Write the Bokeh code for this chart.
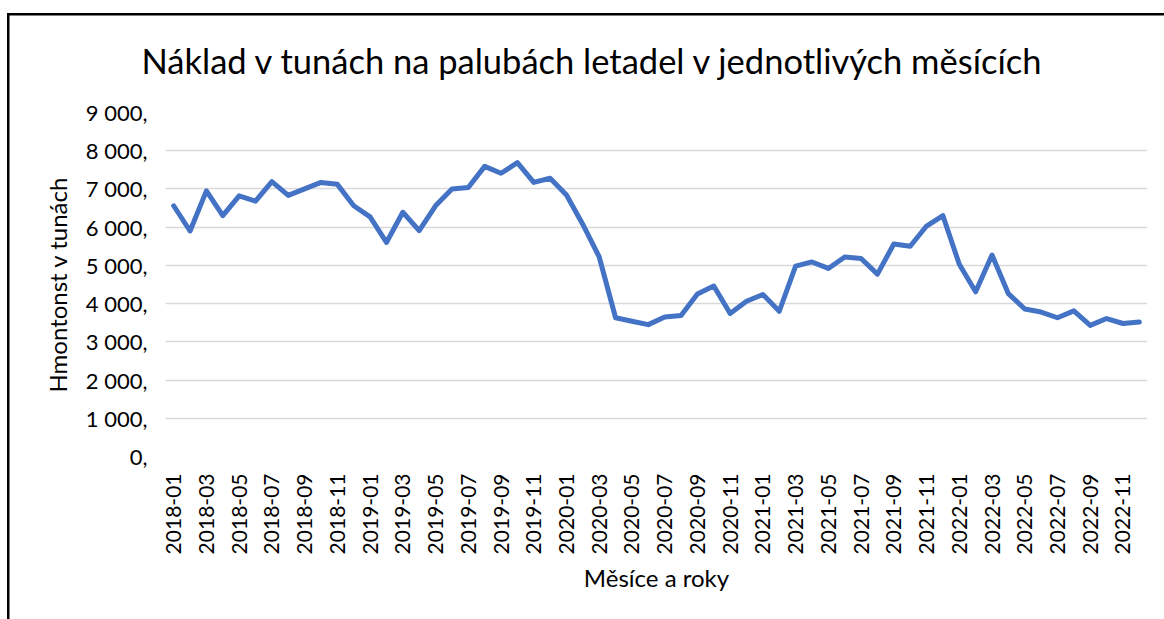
from bokeh.plotting import figure
from bokeh.models import Range1d, FixedTicker
from bokeh.embed import file_html
from bokeh.resources import INLINE

title_text = "Náklad v tunách na palubách letadel v jednotlivých měsících"
x_title = "Měsíce a roky"
y_title = "Hmontonst v tunách"

months = [f"{y}-{m:02d}" for y in range(2018, 2023) for m in range(1, 13)]

cargo = [6560, 5900, 6950, 6300, 6820, 6680, 7190, 6830, 7000, 7170, 7120, 6560,
         6270, 5600, 6390, 5910, 6560, 7000, 7040, 7590, 7410, 7690, 7170, 7280,
         6840, 6070, 5220, 3630, 3540, 3450, 3650, 3690, 4250, 4460, 3740, 4060,
         4240, 3800, 4980, 5090, 4920, 5220, 5180, 4770, 5560, 5500, 6030, 6300,
         5030, 4310, 5270, 4260, 3860, 3780, 3630, 3810, 3430, 3610, 3480, 3520]

y_ticks = [0, 1000, 2000, 3000, 4000, 5000, 6000, 7000, 8000, 9000]
y_tick_labels = ["0,", "1 000,", "2 000,", "3 000,", "4 000,", "5 000,",
                 "6 000,", "7 000,", "8 000,", "9 000,"]

FONT = "Lato"

p = figure(width=1164, height=619, output_backend="svg", toolbar_location=None,
           x_range=Range1d(-0.5, len(months) - 0.5), y_range=Range1d(0, 9000),
           min_border_left=165, min_border_right=17, min_border_top=112,
           min_border_bottom=163, background_fill_color="white",
           border_fill_color=None, outline_line_color=None)

# chart-area frame (left and top edges visible)
p.styles = {
    "background-color": "white",
    "background-image": "linear-gradient(#000, #000), linear-gradient(#000, #000)",
    "background-size": "100% 2.5px, 2.5px 100%",
    "background-position": "7.3px 13.3px, 7.3px 13.3px",
    "background-repeat": "no-repeat",
}

p.title.text = title_text
p.title.text_font = FONT
p.title.text_font_size = "34.5px"
p.title.text_font_style = "normal"
p.title.text_color = "black"
p.title.align = "left"
p.title.offset = -24
p.title.standoff = 63

xs = list(range(len(months)))
p.line(xs, cargo, line_color="#4472C4", line_width=5, line_join="round", line_cap="round")

# axes
p.xaxis.ticker = FixedTicker(ticks=[i for i in xs if i % 2 == 0])
p.xaxis.major_label_overrides = {i: months[i] for i in xs if i % 2 == 0}
p.xaxis.major_label_orientation = 1.5707963
p.yaxis.ticker = FixedTicker(ticks=y_ticks)
p.yaxis.major_label_overrides = {t: l for t, l in zip(y_ticks, y_tick_labels)}

for ax in (p.xaxis, p.yaxis):
    ax.axis_line_color = None
    ax.major_tick_line_color = None
    ax.minor_tick_line_color = None
    ax.major_tick_out = 0
    ax.major_tick_in = 0
    ax.major_label_text_font = FONT
    ax.major_label_text_color = "black"
    ax.axis_label_text_font = FONT
    ax.axis_label_text_font_size = "24px"
    ax.axis_label_text_font_style = "normal"
    ax.axis_label_text_color = "black"

p.xaxis.major_label_text_font_size = "21px"
p.yaxis.major_label_text_font_size = "22px"
p.xaxis.axis_label = x_title
p.yaxis.axis_label = y_title
p.xaxis.major_label_standoff = 17
p.yaxis.major_label_standoff = 18
p.xaxis.axis_label_standoff = 6
p.yaxis.axis_label_standoff = 11

p.xgrid.grid_line_color = None
p.ygrid.grid_line_color = "#d9d9d9"
p.ygrid.grid_line_width = 1.5

open("out.html", "w").write(file_html(p, INLINE))
